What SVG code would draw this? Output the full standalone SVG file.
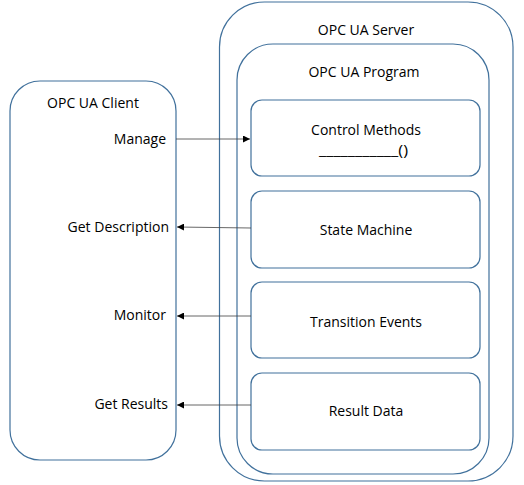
<svg xmlns="http://www.w3.org/2000/svg" width="524" height="485" viewBox="0 0 524 485">
<style>
.box{fill:#fff;stroke:#41719c;stroke-width:1.2}
.t{font-family:"Open Sans","Noto Sans",sans-serif;font-size:14px;fill:#000}
.c{text-anchor:middle}
.r{text-anchor:end}
.conn{stroke:#404040;stroke-width:0.8;fill:none}
</style>
<defs>
<marker id="ah" viewBox="0 0 10 10" refX="10" refY="5" markerWidth="7" markerHeight="7" markerUnits="userSpaceOnUse" orient="auto">
<path d="M0,0 L10,5 L0,10 z" fill="#000"/>
</marker>
</defs>
<rect width="524" height="485" fill="#fff"/>
<g id="client">
<rect class="box" x="10" y="81" width="166" height="379" rx="30" ry="30"/>
<text class="t c" x="93" y="108">OPC UA Client</text>
<text class="t r" x="166" y="144">Manage</text>
<text class="t r" x="169" y="232">Get Description</text>
<text class="t r" x="166" y="320">Monitor</text>
<text class="t r" x="168" y="409">Get Results</text>
</g>
<g id="server">
<rect class="box" x="219.5" y="2" width="293.5" height="479" rx="45" ry="45"/>
<text class="t c" x="366" y="35">OPC UA Server</text>
</g>
<g id="program">
<rect class="box" x="237" y="44" width="252" height="430" rx="36" ry="36"/>
<text class="t c" x="364" y="77">OPC UA Program</text>
</g>
<g id="control-methods">
<rect class="box" x="251" y="100" width="229" height="76" rx="11" ry="11"/>
<text class="t c" x="366" y="135">Control Methods</text>
<text class="t" x="319" y="155" textLength="89" lengthAdjust="spacingAndGlyphs">___________()</text>
</g>
<g id="state-machine">
<rect class="box" x="251" y="191" width="229" height="77" rx="11" ry="11"/>
<text class="t c" x="366" y="235">State Machine</text>
</g>
<g id="transition-events">
<rect class="box" x="251" y="282" width="229" height="76" rx="11" ry="11"/>
<text class="t c" x="366" y="327">Transition Events</text>
</g>
<g id="result-data">
<rect class="box" x="251" y="373" width="229" height="77" rx="11" ry="11"/>
<text class="t c" x="366" y="416">Result Data</text>
</g>
<g id="connectors">
<line class="conn" x1="176" y1="139" x2="250" y2="139" marker-end="url(#ah)"/>
<line class="conn" x1="251" y1="228" x2="177" y2="227" marker-end="url(#ah)"/>
<line class="conn" x1="251" y1="316" x2="177" y2="316" marker-end="url(#ah)"/>
<line class="conn" x1="251" y1="405" x2="177" y2="405" marker-end="url(#ah)"/>
</g>
</svg>
